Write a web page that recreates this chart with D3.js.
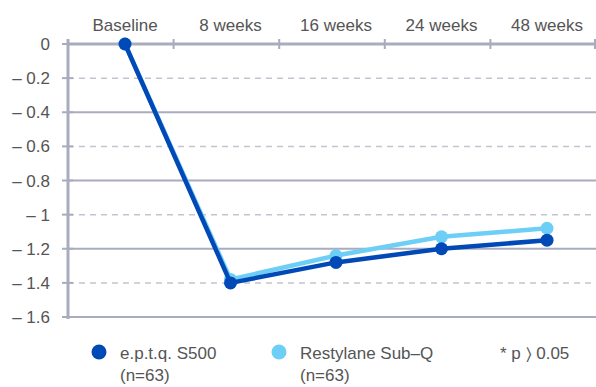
<!DOCTYPE html>
<html>
<head>
<meta charset="utf-8">
<script src="https://cdn.jsdelivr.net/npm/d3@7"></script>
<style>
  html, body { margin: 0; padding: 0; background: #fff; }
  svg text { font-family: "Liberation Sans", Arial, sans-serif; fill: #555; }
</style>
</head>
<body>
<svg id="chart" width="596" height="387"></svg>
<script>
// Time points and mean change from baseline for each product
const timepoints = ["Baseline", "8 weeks", "16 weeks", "24 weeks", "48 weeks"];
const eptqValues = [0, -1.40, -1.28, -1.20, -1.15];
const restylaneValues = [0, -1.38, -1.24, -1.13, -1.08];
const yTicks = [0, -0.2, -0.4, -0.6, -0.8, -1, -1.2, -1.4, -1.6];

const series = [
  { name: "e.p.t.q. S500", sub: "(n=63)", values: eptqValues, color: "#0049b7" },
  { name: "Restylane Sub\u2013Q", sub: "(n=63)", values: restylaneValues, color: "#6dcff6" }
];

const svg = d3.select("#chart");
const plotLeft = 68, plotRight = 596, plotTop = 44, plotBottom = 317;
const fontSize = 17;

const x = d3.scalePoint().domain(timepoints).range([125, 547]);
const xBand = d3.scaleBand().domain(timepoints).range([plotLeft, plotRight]);
const y = d3.scaleLinear().domain([0, -1.6]).range([plotTop, plotBottom]);

const gridSolid = "#a9acbf", gridDash = "#c4c4d0";

// horizontal gridlines: solid on even steps, dashed on odd
const grid = svg.append("g");
yTicks.forEach((t, i) => {
  if (i === 0) return;
  grid.append("line")
    .attr("x1", plotLeft).attr("x2", plotRight)
    .attr("y1", y(t)).attr("y2", y(t))
    .attr("stroke", i % 2 === 0 ? gridSolid : gridDash)
    .attr("stroke-width", i % 2 === 0 ? 2 : 1.5)
    .attr("stroke-dasharray", i % 2 === 0 ? null : "6,5");
});

// y axis line and tick marks
svg.append("line")
  .attr("x1", plotLeft).attr("x2", plotLeft)
  .attr("y1", plotTop - 5).attr("y2", plotBottom + 2)
  .attr("stroke", gridSolid).attr("stroke-width", 3);
yTicks.forEach(t => {
  svg.append("line")
    .attr("x1", plotLeft - 6).attr("x2", plotLeft + 5)
    .attr("y1", y(t)).attr("y2", y(t))
    .attr("stroke", gridSolid).attr("stroke-width", 2);
});

// y tick labels
yTicks.forEach(t => {
  svg.append("text")
    .attr("x", 50).attr("y", y(t) + 6)
    .attr("text-anchor", "end")
    .attr("font-size", fontSize)
    .text(t === 0 ? "0" : "\u2013 " + d3.format("~g")(-t));
});

// top axis (zero line) with boundary ticks
svg.append("line")
  .attr("x1", plotLeft).attr("x2", plotRight)
  .attr("y1", y(0)).attr("y2", y(0))
  .attr("stroke", gridSolid).attr("stroke-width", 3);
timepoints.slice(1).forEach(c => {
  const bx = xBand(c);
  svg.append("line")
    .attr("x1", bx).attr("x2", bx)
    .attr("y1", y(0) - 5).attr("y2", y(0) + 5)
    .attr("stroke", gridSolid).attr("stroke-width", 2);
});
svg.append("line")
  .attr("x1", plotRight - 1).attr("x2", plotRight - 1)
  .attr("y1", y(0) - 5).attr("y2", y(0) + 5)
  .attr("stroke", gridSolid).attr("stroke-width", 2);

// x category labels
timepoints.forEach(c => {
  svg.append("text")
    .attr("x", x(c)).attr("y", 31)
    .attr("text-anchor", "middle")
    .attr("font-size", fontSize)
    .text(c);
});

// lines and markers, light series underneath
const line = d3.line().x((d, i) => x(timepoints[i])).y(d => y(d));
[series[1], series[0]].forEach(s => {
  svg.append("path")
    .datum(s.values)
    .attr("d", line)
    .attr("fill", "none")
    .attr("stroke", s.color)
    .attr("stroke-width", 4.5)
    .attr("stroke-linejoin", "round");
  svg.selectAll(null)
    .data(s.values)
    .enter().append("circle")
    .attr("cx", (d, i) => x(timepoints[i]))
    .attr("cy", d => y(d))
    .attr("r", 6.5)
    .attr("fill", s.color);
});

// legend
const legendX = [99, 279];
series.forEach((s, i) => {
  svg.append("circle").attr("cx", legendX[i]).attr("cy", 352).attr("r", 7.5).attr("fill", s.color);
  svg.append("text").attr("x", legendX[i] + 21).attr("y", 359).attr("font-size", fontSize).text(s.name);
  svg.append("text").attr("x", legendX[i] + 21).attr("y", 381).attr("font-size", fontSize).text(s.sub);
});
svg.append("text").attr("x", 500).attr("y", 359).attr("font-size", fontSize).text("* p \u232A 0.05");
</script>
</body>
</html>
